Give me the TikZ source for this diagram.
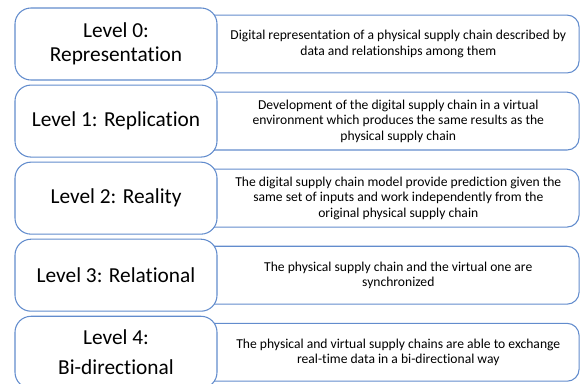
\documentclass[tikz,border=0pt]{standalone}
\usepackage{fontspec}
\setmainfont{Carlito}[Ligatures=NoCommon]
\usetikzlibrary{positioning, backgrounds}
\definecolor{boxblue}{RGB}{98,140,205}

\begin{document}
\begin{tikzpicture}[
          node distance=3pt,
          levelbox/.style={rectangle, draw=boxblue, line width=0.8pt, rounded corners=12pt, fill=white, minimum width=151.5pt, minimum height=54pt, inner sep=2pt, align=center, font=\fontsize{16}{18}\selectfont},
          descbox/.style={rectangle, minimum width=270.75pt, minimum height=43pt, inner sep=2pt, align=center, font=\fontsize{10.2}{11.6}\selectfont},
          edge/.style={draw=boxblue, line width=0.8pt, rounded corners=9pt}
        ]
          \useasboundingbox (0,0) rectangle (435pt,-287.25pt);
          % levels on the left
          \node[levelbox] (l0) at (87pt,-33pt) {Level 0:\\Representation};
          \node[levelbox, below=of l0] (l1) {Level 1: Replication};
          \node[levelbox, below=of l1] (l2) {Level 2: Reality};
          \node[levelbox, below=of l2] (l3) {Level 3: Relational};
          \node[levelbox, below=of l3] (l4) {Level 4:\\[5pt]Bi-directional};
          % descriptions on the right
          \node[descbox, right=0pt of l0] (r0) {Digital representation of a physical supply chain described by\\data and relationships among them};
          \node[descbox, right=0pt of l1] (r1) {Development of the digital supply chain in a virtual\\environment which produces the same results as the\\physical supply chain};
          \node[descbox, right=0pt of l2] (r2) {The digital supply chain model provide prediction given the\\same set of inputs and work independently from the\\original physical supply chain};
          \node[descbox, right=0pt of l3] (r3) {The physical supply chain and the virtual one are\\synchronized};
          \node[descbox, right=0pt of l4] (r4) {The physical and virtual supply chains are able to exchange\\real-time data in a bi-directional way};
          % frames behind the level boxes
          \begin{scope}[on background layer]
            \foreach \i in {0,...,4}
              \draw[edge] ([xshift=-20pt]r\i.north west) -- (r\i.north east) -- (r\i.south east) -- ([xshift=-20pt]r\i.south west);
          \end{scope}
        \end{tikzpicture}
\end{document}
